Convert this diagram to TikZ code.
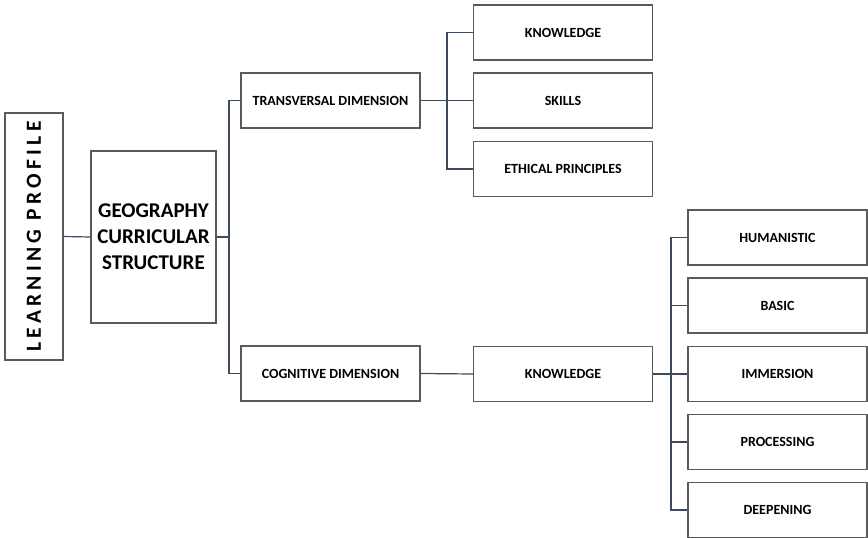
\documentclass[tikz,border=0pt]{standalone}
\usepackage{fontspec}
\setmainfont{Carlito}
\newfontfamily\spacedfont[LetterSpace=20]{Carlito}
\definecolor{boxline}{HTML}{5A5A5A}
\definecolor{conline}{HTML}{3E4B5A}
\begin{document}
\begin{tikzpicture}[x=1pt,y=-1pt,
  box/.style={draw=boxline,line width=1.3pt,inner sep=0pt,minimum width=179pt,minimum height=55pt,font=\bfseries\fontsize{14}{16}\selectfont,align=center},
  con/.style={draw=conline,line width=1.2pt}]
\useasboundingbox (0,0) rectangle (868,538);
\node[box,minimum width=58pt,minimum height=247pt] (lp) at (34,236.5) {};
\node[rotate=90,font=\spacedfont\bfseries\fontsize{21.5}{24}\selectfont] at (lp.center) {LEARNING PROFILE};
\node[box,minimum width=125pt,minimum height=172pt,font=\bfseries\fontsize{21}{26}\selectfont] (geo) at (153.5,237) {GEOGRAPHY\\CURRICULAR\\STRUCTURE};
\node[box] (trans) at (330.5,100.5) {TRANSVERSAL DIMENSION};
\node[box] (cog) at (330.5,373.5) {COGNITIVE DIMENSION};
\node[box] (k1) at (563,32.5) {KNOWLEDGE};
\node[box] (skills) at (563,100.5) {SKILLS};
\node[box] (eth) at (563,169) {ETHICAL PRINCIPLES};
\node[box] (k2) at (563,374) {KNOWLEDGE};
\node[box] (hum) at (777.5,237.5) {HUMANISTIC};
\node[box] (basic) at (777.5,305.5) {BASIC};
\node[box] (imm) at (777.5,374) {IMMERSION};
\node[box] (proc) at (777.5,442) {PROCESSING};
\node[box] (deep) at (777.5,510) {DEEPENING};
\coordinate (b1) at (229,237);
\coordinate (b2) at (447,100.5);
\coordinate (b3) at (671,374);
\draw[con] (lp.east) -- (geo.west);
\draw[con] (geo.east) -- (b1);
\draw[con] (trans.west) -| (b1) |- (cog.west);
\draw[con] (trans.east) -- (skills.west);
\draw[con] (k1.west) -| (b2) |- (eth.west);
\draw[con] (cog.east) -- (k2.west);
\draw[con] (k2.east) -- (imm.west);
\draw[con] (hum.west) -| (b3) |- (deep.west);
\draw[con] (basic.west) -- (basic.west -| b3);
\draw[con] (proc.west) -- (proc.west -| b3);
\end{tikzpicture}
\end{document}
